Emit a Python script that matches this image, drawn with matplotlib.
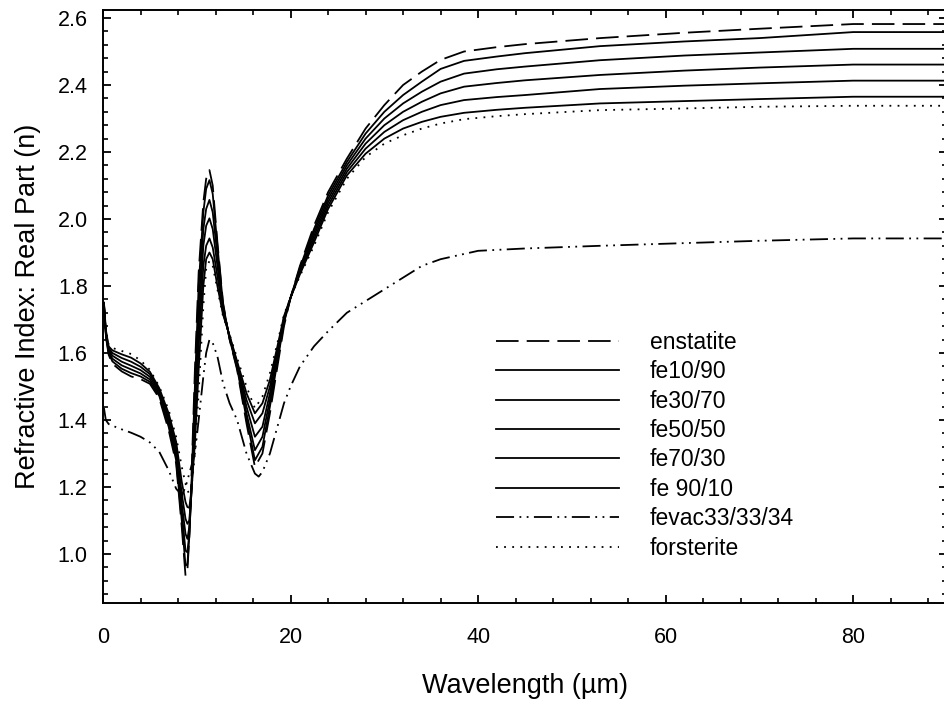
import matplotlib
matplotlib.use("Agg")
import matplotlib.pyplot as plt
from matplotlib.ticker import MultipleLocator, FixedLocator

plt.rcParams['font.family'] = ['Liberation Sans', 'DejaVu Sans']

# ---------------- data ----------------
wavelength = [0.1, 0.3, 0.6, 1.0, 2.0, 3.0, 4.0, 5.0, 6.0, 7.0, 7.8, 8.4, 8.8, 9.0, 9.2, 9.4,
              9.8, 10.2, 10.7, 11.0, 11.35, 11.7, 12.2, 12.8, 13.5, 14.3, 15.3, 16.2, 17.0,
              17.8, 18.6, 19.3, 20.0, 21.0, 22.5, 24.0, 26.0, 28.0, 30.0, 32.0, 34.0, 36.0,
              38.5, 42.0, 45.0, 53.0, 62.0, 70.0, 80.0, 90.0]

enstatite = [1.74, 1.65, 1.595, 1.568, 1.545, 1.530, 1.522, 1.508, 1.465, 1.37, 1.27, 1.08, 0.935, 0.95, 1.05, 1.20,
             1.55, 1.84, 2.05, 2.12, 2.146, 2.10, 1.93, 1.75, 1.64, 1.55, 1.39, 1.26, 1.30,
             1.42, 1.56, 1.68, 1.765, 1.86, 1.98, 2.08, 2.18, 2.27, 2.34, 2.40, 2.44, 2.475,
             2.50, 2.513, 2.522, 2.54, 2.556, 2.568, 2.582, 2.582]
fe10_90 = [1.74, 1.655, 1.60, 1.575, 1.553, 1.540, 1.530, 1.514, 1.472, 1.38, 1.28, 1.10, 0.965, 0.97, 1.05, 1.18,
           1.50, 1.80, 2.02, 2.09, 2.116, 2.075, 1.92, 1.745, 1.642, 1.555, 1.405, 1.28, 1.32,
           1.44, 1.575, 1.69, 1.765, 1.855, 1.97, 2.07, 2.17, 2.255, 2.32, 2.37, 2.41, 2.448,
           2.472, 2.485, 2.495, 2.516, 2.53, 2.54, 2.558, 2.558]
fe30_70 = [1.745, 1.66, 1.605, 1.583, 1.563, 1.551, 1.539, 1.521, 1.478, 1.39, 1.29, 1.125, 1.01, 1.005, 1.06, 1.17,
           1.45, 1.74, 1.97, 2.03, 2.057, 2.02, 1.89, 1.735, 1.645, 1.56, 1.42, 1.31, 1.35,
           1.46, 1.585, 1.695, 1.765, 1.85, 1.96, 2.06, 2.16, 2.24, 2.30, 2.345, 2.38, 2.41,
           2.434, 2.447, 2.455, 2.474, 2.488, 2.497, 2.508, 2.508]
fe50_50 = [1.745, 1.66, 1.61, 1.592, 1.574, 1.562, 1.549, 1.529, 1.484, 1.40, 1.305, 1.15, 1.06, 1.045, 1.08, 1.17,
           1.41, 1.68, 1.92, 1.98, 2.002, 1.97, 1.86, 1.73, 1.647, 1.565, 1.44, 1.35, 1.38,
           1.48, 1.60, 1.70, 1.765, 1.845, 1.95, 2.05, 2.15, 2.225, 2.28, 2.32, 2.35, 2.375,
           2.395, 2.406, 2.414, 2.43, 2.443, 2.452, 2.461, 2.461]
fe70_30 = [1.75, 1.665, 1.615, 1.600, 1.585, 1.574, 1.559, 1.537, 1.490, 1.41, 1.32, 1.18, 1.105, 1.09, 1.10, 1.17,
           1.37, 1.62, 1.86, 1.92, 1.942, 1.915, 1.83, 1.72, 1.65, 1.57, 1.46, 1.39, 1.42,
           1.50, 1.61, 1.705, 1.765, 1.84, 1.94, 2.04, 2.14, 2.21, 2.26, 2.295, 2.32, 2.34,
           2.355, 2.364, 2.37, 2.388, 2.398, 2.405, 2.413, 2.413]
fe90_10 = [1.75, 1.67, 1.62, 1.608, 1.596, 1.586, 1.569, 1.544, 1.495, 1.42, 1.335, 1.215, 1.155, 1.14, 1.138, 1.18,
           1.33, 1.55, 1.80, 1.88, 1.90, 1.88, 1.80, 1.715, 1.652, 1.575, 1.48, 1.42, 1.45,
           1.52, 1.62, 1.71, 1.765, 1.835, 1.93, 2.03, 2.13, 2.195, 2.24, 2.27, 2.29, 2.305,
           2.317, 2.326, 2.332, 2.345, 2.352, 2.358, 2.365, 2.365]
forsterite = [1.75, 1.67, 1.625, 1.615, 1.606, 1.597, 1.578, 1.55, 1.50, 1.43, 1.35, 1.26, 1.21, 1.19, 1.18, 1.185,
              1.30, 1.48, 1.74, 1.85, 1.875, 1.86, 1.79, 1.71, 1.655, 1.585, 1.50, 1.435, 1.47,
              1.54, 1.63, 1.715, 1.765, 1.83, 1.92, 2.02, 2.12, 2.185, 2.225, 2.25, 2.27, 2.285,
              2.298, 2.307, 2.313, 2.325, 2.33, 2.335, 2.338, 2.338]

wavelength_fevac = [0.1, 0.3, 0.6, 1.0, 2.0, 3.0, 4.0, 5.0, 6.0, 7.0, 7.8, 8.4, 8.8, 9.2, 9.8, 10.2,
                    10.7, 11.0, 11.35, 11.7, 12.2, 12.8, 13.5, 14.3, 15.3, 16.2, 16.6, 17.0, 17.8,
                    18.6, 19.3, 20.0, 21.0, 22.5, 24.0, 26.0, 28.0, 30.0, 32.0, 34.0, 36.0, 40.0,
                    45.0, 53.0, 62.0, 70.0, 80.0, 90.0]
fevac33_33_34 = [1.436, 1.40, 1.388, 1.383, 1.372, 1.362, 1.35, 1.333, 1.305, 1.25, 1.195, 1.175, 1.20, 1.24, 1.30, 1.40,
                 1.53, 1.60, 1.64, 1.63, 1.59, 1.51, 1.45, 1.40, 1.30, 1.24, 1.231, 1.245, 1.30,
                 1.38, 1.45, 1.50, 1.56, 1.62, 1.665, 1.72, 1.755, 1.79, 1.825, 1.86, 1.88, 1.905,
                 1.912, 1.92, 1.928, 1.935, 1.942, 1.942]

labels = ["enstatite", "fe10/90", "fe30/70", "fe50/50", "fe70/30", "fe 90/10",
          "fevac33/33/34", "forsterite"]

# ---------------- figure ----------------
W, H = 945, 702
fig = plt.figure(figsize=(W / 100, H / 100), dpi=100)
ax = fig.add_axes([103 / W, (H - 603) / H, (947 - 103) / W, 593 / H])

lw = 1.3
series = [
    (wavelength, enstatite, dict(linestyle=(0, (12.5, 4.5)))),
    (wavelength, fe10_90, dict(linestyle='-')),
    (wavelength, fe30_70, dict(linestyle='-')),
    (wavelength, fe50_50, dict(linestyle='-')),
    (wavelength, fe70_30, dict(linestyle='-')),
    (wavelength, fe90_10, dict(linestyle='-')),
    (wavelength_fevac, fevac33_33_34, dict(linestyle=(0, (10, 3, 1, 3, 1, 3)))),
    (wavelength, forsterite, dict(linestyle=(0, (1, 3.5)))),
]
for (xs, ys, st), lab in zip(series, labels):
    ax.plot(xs, ys, color='black', linewidth=lw, label=lab, **st)

ax.set_xlim(0, 90)
ax.set_ylim(0.8537, 2.6239)

ax.xaxis.set_major_locator(FixedLocator([0, 20, 40, 60, 80]))
ax.xaxis.set_minor_locator(MultipleLocator(4))
ax.yaxis.set_major_locator(MultipleLocator(0.2))
ax.yaxis.set_minor_locator(MultipleLocator(0.04))
ax.yaxis.set_major_formatter(plt.FormatStrFormatter('%.1f'))

ax.tick_params(which='both', direction='in', top=True, right=True, colors='black')
ax.tick_params(which='major', length=6, width=1.3, labelsize=15.5)
ax.tick_params(axis='x', which='major', pad=17)
ax.tick_params(axis='y', which='major', pad=11)
ax.tick_params(which='minor', length=3.3, width=1.2)
for s in ax.spines.values():
    s.set_linewidth(1.4)

ax.set_xlabel("Wavelength (\u00b5m)", fontsize=19.5, labelpad=18)
ax.set_ylabel("Refractive Index: Real Part (n)", fontsize=19.5, labelpad=12)

leg = ax.legend(loc='upper left', bbox_to_anchor=(0.4657, 0.459), frameon=False,
                fontsize=16.5, handlelength=5.36, handletextpad=1.35, labelspacing=0.28,
                borderpad=0, borderaxespad=0)

fig.savefig("out.png", dpi=100)
